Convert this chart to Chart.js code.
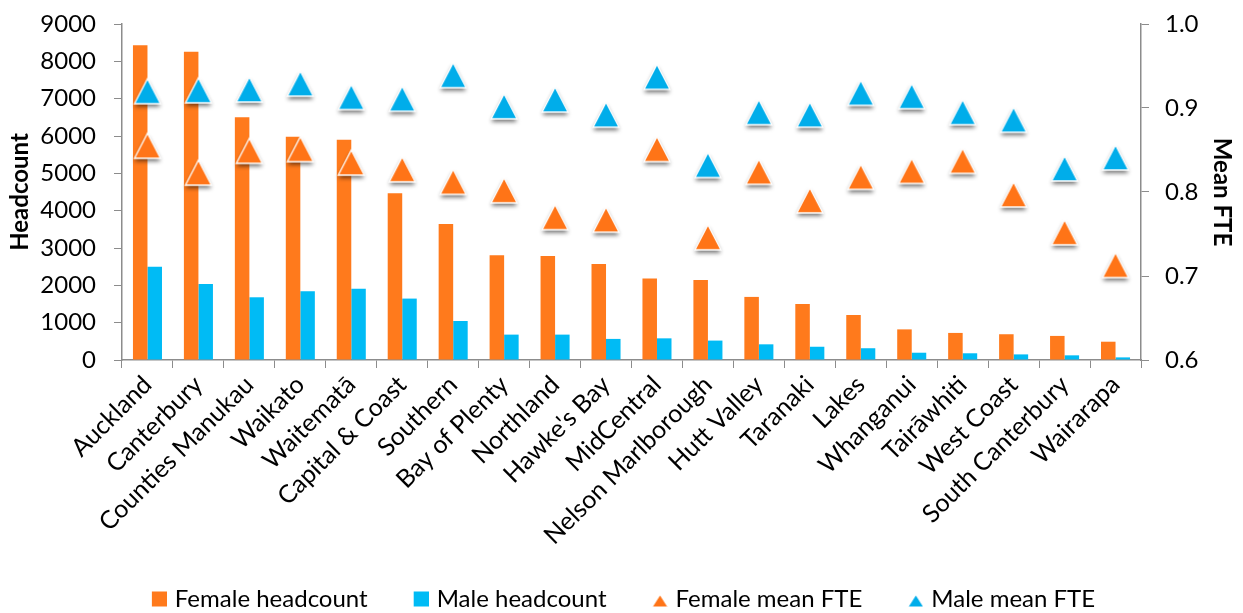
<!DOCTYPE html>
<html>
<head>
<meta charset="utf-8">
<script src="https://cdn.jsdelivr.net/npm/chart.js@4.4.0/dist/chart.umd.min.js"></script>
<style>
  body { margin: 0; background: #fff; }
  #wrap { width: 1243px; height: 613px; }
</style>
</head>
<body>
<div id="wrap"><canvas id="chart"></canvas></div>
<script>
const regions = ['Auckland', 'Canterbury', 'Counties Manukau', 'Waikato', 'Waitematā', 'Capital & Coast',
  'Southern', 'Bay of Plenty', 'Northland', "Hawke's Bay", 'MidCentral', 'Nelson Marlborough',
  'Hutt Valley', 'Taranaki', 'Lakes', 'Whanganui', 'Tairāwhiti', 'West Coast', 'South Canterbury', 'Wairarapa'];

const femaleHeadcount = [8430, 8260, 6500, 5980, 5900, 4465, 3645, 2805, 2785, 2570,
  2180, 2145, 1690, 1500, 1205, 820, 725, 690, 645, 490];
const maleHeadcount = [2500, 2035, 1680, 1840, 1910, 1645, 1045, 680, 680, 565,
  580, 520, 420, 355, 315, 195, 180, 150, 125, 70];
const femaleFTE = [0.855, 0.823, 0.849, 0.851, 0.835, 0.827, 0.812, 0.802, 0.770, 0.767,
  0.851, 0.746, 0.824, 0.790, 0.818, 0.825, 0.837, 0.797, 0.752, 0.713];
const maleFTE = [0.920, 0.921, 0.922, 0.929, 0.913, 0.911, 0.939, 0.902, 0.910, 0.892,
  0.937, 0.832, 0.895, 0.892, 0.918, 0.914, 0.895, 0.886, 0.828, 0.841];

const ORANGE = '#FF7A1C';
const BLUE = '#00BBF5';
const ORANGE_TRI = '#FF7417';
const BLUE_TRI = '#00ADEA';
const AXIS = '#8c8c8c';
const FONT = 'Lato';

// excel style triangle marker: white edge + soft drop shadow
function triangleMarker(color) {
  const w = 26, h = 25, pad = 8;
  const c = document.createElement('canvas');
  c.width = w + pad * 2;
  c.height = h + pad * 2;
  const ctx = c.getContext('2d');
  const cx = c.width / 2;
  ctx.beginPath();
  ctx.moveTo(cx, pad);
  ctx.lineTo(cx + w / 2, pad + h);
  ctx.lineTo(cx - w / 2, pad + h);
  ctx.closePath();
  ctx.shadowColor = 'rgba(0,0,0,0.55)';
  ctx.shadowBlur = 4;
  ctx.shadowOffsetY = 3;
  ctx.fillStyle = color;
  ctx.fill();
  ctx.shadowColor = 'transparent';
  ctx.strokeStyle = '#fff';
  ctx.lineWidth = 1.3;
  ctx.stroke();
  return c;
}

// legend swatch, drawn in the right part of its canvas so it sits close to the text
function legendSwatch(color, shape) {
  const c = document.createElement('canvas');
  c.width = 23;
  c.height = 16;
  const ctx = c.getContext('2d');
  ctx.fillStyle = color;
  if (shape === 'rect') {
    ctx.fillRect(8, 0.5, 15, 15);
  } else {
    ctx.beginPath();
    ctx.moveTo(15.5, 4.5);
    ctx.lineTo(22.5, 15.5);
    ctx.lineTo(8.5, 15.5);
    ctx.closePath();
    ctx.fill();
  }
  return c;
}

const legendItems = [
  { text: 'Female headcount', color: ORANGE, shape: 'rect', idx: 0 },
  { text: 'Male headcount', color: BLUE, shape: 'rect', idx: 1 },
  { text: 'Female mean FTE', color: ORANGE_TRI, shape: 'tri', idx: 2 },
  { text: 'Male mean FTE', color: BLUE_TRI, shape: 'tri', idx: 3 },
];

function renderChart() {
  const tickFont = { family: FONT, size: 24, lineHeight: 0.4 };
  const catFont = { family: FONT, size: 25 };
  const titleFont = { family: FONT, size: 24, weight: 'bold' };

  new Chart(document.getElementById('chart'), {
    type: 'bar',
    data: {
      labels: regions,
      datasets: [
        {
          label: 'Female headcount',
          data: femaleHeadcount,
          backgroundColor: ORANGE,
          yAxisID: 'y',
          order: 1,
          categoryPercentage: 0.57,
          barPercentage: 1,
        },
        {
          label: 'Male headcount',
          data: maleHeadcount,
          backgroundColor: BLUE,
          yAxisID: 'y',
          order: 1,
          categoryPercentage: 0.57,
          barPercentage: 1,
        },
        {
          type: 'line',
          label: 'Female mean FTE',
          data: femaleFTE,
          showLine: false,
          pointStyle: triangleMarker(ORANGE_TRI),
          pointRadius: 13,
          pointHoverRadius: 13,
          yAxisID: 'y1',
          order: 0,
        },
        {
          type: 'line',
          label: 'Male mean FTE',
          data: maleFTE,
          showLine: false,
          pointStyle: triangleMarker(BLUE_TRI),
          pointRadius: 13,
          pointHoverRadius: 13,
          yAxisID: 'y1',
          order: 0,
        },
      ],
    },
    options: {
      responsive: true,
      maintainAspectRatio: false,
      animation: false,
      layout: { padding: { top: 24, bottom: -8, left: 0, right: 0 } },
      plugins: {
        tooltip: { enabled: false },
        legend: {
          position: 'bottom',
          labels: {
            usePointStyle: true,
            pointStyleWidth: 15,
            boxHeight: 16,
            padding: 42,
            color: '#000',
            font: { family: FONT, size: 24 },
            generateLabels: () => legendItems.map(item => ({
              text: item.text,
              fillStyle: item.color,
              strokeStyle: item.color,
              lineWidth: 0,
              pointStyle: legendSwatch(item.color, item.shape),
              datasetIndex: item.idx,
              hidden: false,
            })),
          },
        },
      },
      scales: {
        x: {
          offset: true,
          afterFit: scale => { scale.height = 185; },
          grid: { drawOnChartArea: false, drawTicks: true, tickLength: 8, color: AXIS, offset: true },
          border: { color: AXIS, width: 1.5 },
          ticks: {
            autoSkip: false,
            minRotation: 45,
            maxRotation: 45,
            color: '#000',
            font: catFont,
            padding: 2,
          },
        },
        y: {
          position: 'left',
          min: 0,
          max: 9000,
          afterFit: scale => { scale.width = 122; },
          grid: { drawOnChartArea: false, drawTicks: true, tickLength: 8, color: AXIS },
          border: { color: AXIS, width: 1.5 },
          ticks: { stepSize: 1000, color: '#000', font: tickFont, padding: 18, callback: v => String(v) },
          title: {
            display: true,
            text: 'Headcount',
            color: '#000',
            font: titleFont,
            padding: { top: 6, bottom: 0 },
          },
        },
        y1: {
          position: 'right',
          min: 0.6,
          max: 1.0,
          afterFit: scale => { scale.width = 102; },
          grid: { drawOnChartArea: false, drawTicks: true, tickLength: 8, color: AXIS },
          border: { color: AXIS, width: 1.5 },
          ticks: {
            stepSize: 0.1,
            color: '#000',
            font: tickFont,
            padding: 16,
            callback: v => Number(v).toFixed(1),
          },
          title: {
            display: true,
            text: 'Mean FTE',
            color: '#000',
            font: titleFont,
            padding: { top: 7, bottom: 0 },
          },
        },
      },
    },
  });
}

renderChart();
</script>
</body>
</html>
